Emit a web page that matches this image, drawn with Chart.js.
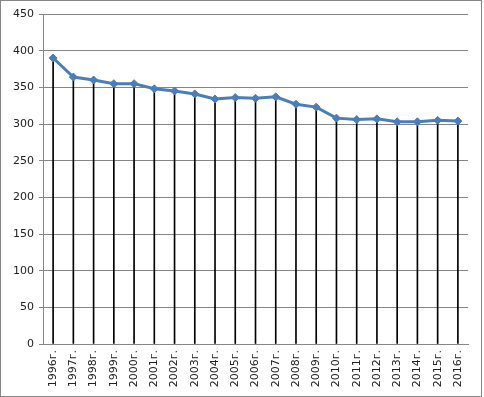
<!DOCTYPE html>
<html>
<head>
<meta charset="utf-8">
<script src="https://cdn.jsdelivr.net/npm/chart.js@4/dist/chart.umd.min.js"></script>
<style>
body{margin:0;background:#fff}
#box{position:absolute;left:0;top:0;width:480px;height:395px;border:1px solid #868686;background:#fff}
</style>
</head>
<body>
<div id="box"><canvas id="chart" width="480" height="395"></canvas></div>
<script>

const years=["1996г.","1997г.","1998г.","1999г.","2000г.","2001г.","2002г.","2003г.","2004г.","2005г.","2006г.","2007г.","2008г.","2009г.","2010г.","2011г.","2012г.","2013г.","2014г.","2015г.","2016г."]

const values=[390,364,360,355,355,348,345,341,334,336,335,337,327,323,308,306,307,303,303,305,304]

const yMin=0
const yMax=450
const yStep=50

const gray="#868686"
const blue="#4a7ebb"

new Chart(document.getElementById("chart"),{

type:"line",

data:{
labels:years,
datasets:[
{
type:"line",
data:values,
borderColor:blue,
backgroundColor:blue,
borderWidth:3,
pointStyle:"rectRot",
pointRadius:4,
pointBorderWidth:1,
pointBackgroundColor:blue,
pointBorderColor:blue,
tension:0,
order:1
},
{
// drop lines from each point down to the axis
type:"bar",
data:values,
backgroundColor:"#000",
barThickness:1,
order:2
}
]
},

options:{
responsive:false,
animation:false,
layout:{padding:{top:13,right:13,left:0,bottom:0}},
plugins:{
legend:{display:false},
tooltip:{enabled:false}
},
scales:{
x:{
offset:true,
grid:{display:false,drawTicks:false},
border:{display:true,color:gray,width:1},
ticks:{
minRotation:90,
maxRotation:90,
autoSkip:false,
padding:6,
color:"#222",
font:{family:"DejaVu Sans",size:11}
},
afterFit:s=>{s.height=52}
},
y:{
min:yMin,
max:yMax,
grid:{color:gray,lineWidth:1,tickLength:4,drawTicks:true},
border:{display:true,color:gray,width:1},
ticks:{
stepSize:yStep,
padding:5,
color:"#222",
font:{family:"DejaVu Sans",size:11}
},
afterFit:s=>{s.width=42}
}
}
}

})

</script>
</body>
</html>
